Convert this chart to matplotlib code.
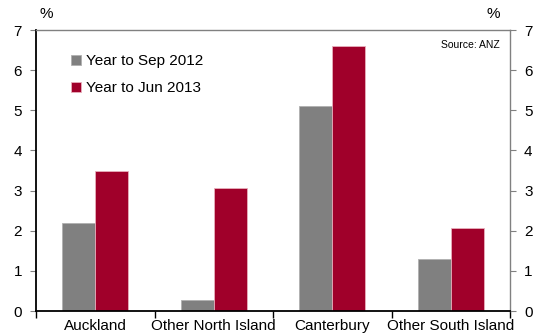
import matplotlib.pyplot as plt
import numpy as np

plt.rcParams['font.family'] = ['Liberation Sans', 'DejaVu Sans']

regions = ['Auckland', 'Other North Island', 'Canterbury', 'Other South Island']
sep_2012 = [2.2, 0.27, 5.1, 1.3]
jun_2013 = [3.5, 3.07, 6.6, 2.08]

grey = '#808080'
red = '#a0002a'

fig = plt.figure(figsize=(5.33, 3.36), dpi=100)
ax = fig.add_axes([0.0675, 0.0744, 0.8895, 0.8363])

x = np.arange(len(regions))
w = 0.28
ax.bar(x - w / 2, sep_2012, w, color=grey, edgecolor='#b0b0b0', linewidth=0.6,
       label='Year to Sep 2012')
ax.bar(x + w / 2, jun_2013, w, color=red, edgecolor='#e8b0bc', linewidth=0.6,
       label='Year to Jun 2013')

ax.set_xlim(-0.5, len(regions) - 0.5)
ax.set_ylim(0, 7)
ax.set_yticks(range(8))

# category labels centred, tick marks on group boundaries
ax.set_xticks(x)
ax.set_xticklabels(regions, fontsize=11)
ax.tick_params(axis='x', which='major', length=0, pad=5.5)
ax.set_xticks(np.arange(-0.5, len(regions), 1), minor=True)
ax.tick_params(axis='x', which='minor', length=5, width=1, color='black', direction='out')

ax.tick_params(axis='y', labelsize=11, length=4, width=0.8, color='#808080',
               right=True, labelright=True, pad=6)

for side in ['left', 'bottom']:
    ax.spines[side].set_color('black')
    ax.spines[side].set_linewidth(1.3)
for side in ['top', 'right']:
    ax.spines[side].set_color('#808080')
    ax.spines[side].set_linewidth(1.0)

ax.text(0.008, 1.032, '%', transform=ax.transAxes, fontsize=11, ha='left', va='bottom')
ax.text(0.979, 1.032, '%', transform=ax.transAxes, fontsize=11, ha='right', va='bottom')
ax.text(0.979, 0.966, 'Source: ANZ', transform=ax.transAxes, fontsize=7.5, ha='right', va='top')

ax.legend(loc='upper left', bbox_to_anchor=(0.06, 0.935), frameon=False, fontsize=11,
          handlelength=0.7, handleheight=0.7, handletextpad=0.3, labelspacing=0.85,
          borderaxespad=0)

fig.savefig('out.png', dpi=100)
